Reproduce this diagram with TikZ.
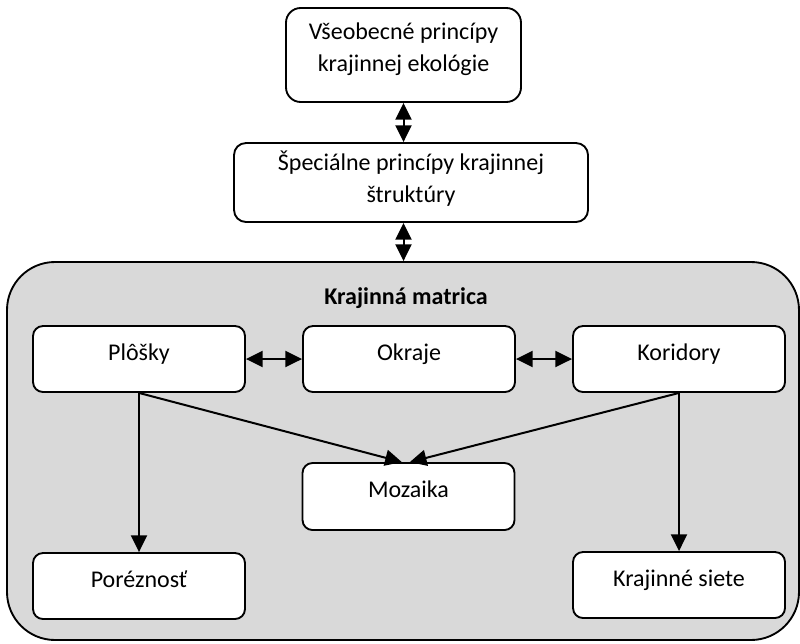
\documentclass[tikz,border=0pt]{standalone}
\usepackage{fontspec}
\setmainfont{Carlito}
\usetikzlibrary{arrows.meta}
\begin{document}
\begin{tikzpicture}[x=0.75pt,y=-0.75pt,
  txt/.style={font=\fontsize{18}{24}\selectfont},
  box/.style={txt,draw=black,line width=1.4pt,fill=white,rounded corners=7.5pt,
    inner sep=0pt,align=center,minimum width=159pt,minimum height=49.5pt,
    text height=12pt,text depth=10pt},
  bigbox/.style={txt,draw=black,line width=1.4pt,fill=white,inner sep=0pt,align=center},
  frame/.style={draw=black,line width=1.4pt,fill=black!15,rounded corners=36pt,
    minimum width=594pt,minimum height=283.5pt,inner sep=0pt},
  link/.style={line width=1.5pt,-{Triangle[length=12.5pt,width=12pt]}},
  both/.style={line width=1.5pt,{Triangle[length=12.5pt,width=12pt]}-{Triangle[length=12.5pt,width=12pt]}}
]
\useasboundingbox (0,0) rectangle (800,643);

% outer level: general and special principles
\node[bigbox,rounded corners=11pt,minimum width=176.25pt,minimum height=70.5pt,
  text depth=12pt] (general) at (403.5,55)
  {Všeobecné princípy\\krajinnej ekológie};
\node[bigbox,rounded corners=9pt,minimum width=265.5pt,minimum height=59.25pt,
  text depth=9pt] (special) at (411,182.5)
  {Špeciálne princípy krajinnej\\štruktúry};

% landscape matrix frame
\node[frame] (matrix) at (403,451) {};
\node[txt,font=\fontsize{18}{20}\selectfont\bfseries] (title) at (406,298) {Krajinná matrica};

% elements inside the matrix
\node[box] (patches) at (139,359) {Plôšky};
\node[box] (edges) at (409,359) {Okraje};
\node[box] (corridors) at (679,359) {Koridory};
\node[box,minimum height=50.25pt] (mosaic) at (408.5,496.5) {Mozaika};
\node[box] (porosity) at (139,586) {Poréznosť};
\node[box] (networks) at (679,585) {Krajinné siete};

% connectors
\draw[both] (general.south) -- (general.south |- special.north);
\draw[both] (general.south |- special.south) -- (general.south |- matrix.north);
\draw[both] (patches.east) -- (edges.west);
\draw[both] (edges.east) -- (corridors.west);
\draw[link] (patches.south) -- ([xshift=-5pt]mosaic.north);
\draw[link] (corridors.south) -- ([xshift=1pt]mosaic.north);
\draw[link] (patches.south) -- (patches.south |- porosity.north);
\draw[link] (corridors.south) -- (corridors.south |- networks.north);
\end{tikzpicture}
\end{document}
